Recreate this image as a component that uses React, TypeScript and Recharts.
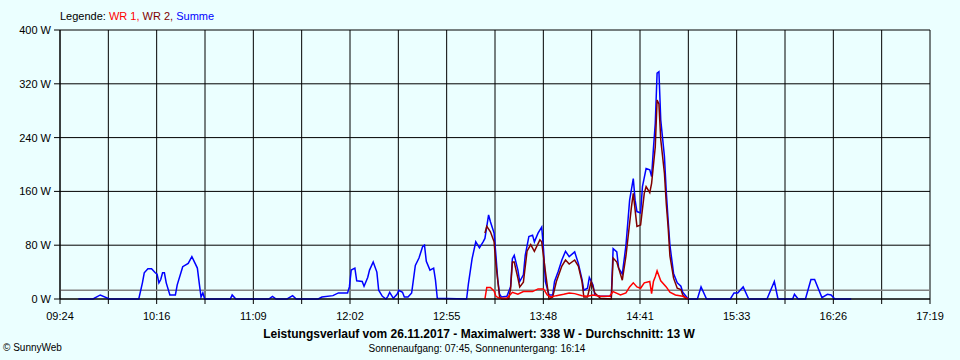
import { CartesianGrid, Line, LineChart, ReferenceLine, XAxis, YAxis } from "recharts";

// minutes of the day, 09:24 .. 17:19
const START = 564;
const END = 1039;
const tickLabels = ["09:24", "10:16", "11:09", "12:02", "12:55", "13:48", "14:41", "15:33", "16:26", "17:19"];
const yTicks = [0, 80, 160, 240, 320, 400];
const average = 13;

const summeTimes = [
  574, 582, 586, 591, 607, 609, 610, 612, 614, 616, 617, 618, 619, 620, 621, 622, 624, 627, 628, 631,
  634, 636, 639, 640, 641, 642, 643, 657, 658, 660, 678, 680, 682, 688, 691, 693, 705, 707, 713, 716,
  721, 722, 723, 725, 726, 729, 730, 732, 733, 735, 737, 738, 740, 742, 743, 744, 746, 748, 749, 751,
  752, 754, 756, 758, 760, 762, 763, 764, 766, 768, 769, 770, 786, 787, 789, 791, 793, 795, 796, 798,
  799, 801, 802, 803, 804, 805, 808, 810, 811, 812, 814, 815, 817, 818, 820, 822, 823, 825, 827, 828,
  829, 831, 833, 834, 836, 838, 840, 842, 845, 847, 849, 850, 852, 853, 855, 856, 859, 865, 866, 868,
  869, 871, 873, 875, 877, 878, 879, 881, 882, 884, 886, 887, 888, 889, 890, 891, 892, 894, 895, 896,
  897, 899, 901, 903, 904, 907, 912, 914, 917, 930, 932, 934, 937, 940, 950, 954, 956, 964, 965, 967,
  971, 974, 976, 980, 983, 985, 987, 996,
];
const summeWatts = [
  0, 0, 6, 0, 0, 24, 39, 45, 45, 39, 37, 24, 29, 39, 39, 24, 6, 6, 21, 48,
  53, 63, 46, 24, 3, 9, 0, 0, 6, 0, 0, 4, 0, 0, 5, 0, 0, 3, 5, 9,
  9, 18, 43, 46, 27, 26, 19, 32, 43, 55, 40, 13, 4, 0, 4, 10, 1, 7, 13, 10,
  3, 3, 9, 50, 61, 78, 80, 56, 43, 46, 28, 1, 0, 23, 60, 85, 76, 85, 90, 125,
  115, 98, 65, 29, 7, 3, 4, 18, 60, 65, 43, 26, 36, 65, 93, 95, 85, 98, 107, 73,
  26, 6, 6, 26, 41, 58, 71, 63, 70, 53, 29, 13, 16, 32, 21, 6, 4, 4, 75, 70,
  46, 37, 80, 147, 179, 147, 130, 128, 167, 194, 192, 182, 224, 261, 336, 338, 266, 212, 160, 118,
  80, 38, 24, 19, 10, 0, 0, 18, 0, 0, 9, 9, 18, 0, 0, 26, 0, 0, 7, 0,
  0, 29, 29, 2, 7, 6, 0, 0,
];

const wr1Times = [
  796, 797, 799, 801, 802, 804, 808, 811, 814, 817, 822, 825, 828, 830, 832, 835, 839, 842, 845, 849,
  852, 855, 859, 864, 866, 870, 873, 875, 877, 879, 881, 883, 886, 887, 888, 889, 890, 892, 895, 897,
  900, 904, 907,
];
const wr1Watts = [
  0, 17, 17, 12, 4, 1, 1, 10, 7, 11, 11, 15, 15, 6, 3, 5, 7, 9, 8, 5,
  4, 6, 4, 4, 11, 6, 9, 18, 24, 18, 16, 24, 26, 8, 26, 33, 42, 27, 18, 10,
  6, 4, 0,
];

const wr2Times = [
  796, 797, 799, 801, 802, 804, 805, 809, 810, 811, 812, 814, 815, 817, 819, 821, 823, 826, 827, 829,
  831, 833, 835, 838, 840, 842, 845, 847, 849, 850, 852, 854, 856, 859, 865, 866, 868, 871, 873, 876,
  877, 879, 881, 883, 884, 886, 887, 889, 890, 891, 892, 894, 895, 896, 897, 899, 901, 903, 904, 906,
];
const wr2Watts = [
  98, 108, 100, 85, 52, 3, 0, 0, 15, 55, 55, 31, 18, 25, 71, 81, 71, 88, 85, 41,
  0, 3, 26, 49, 58, 52, 58, 49, 26, 3, 3, 26, 9, 1, 0, 61, 55, 28, 64, 137,
  157, 108, 110, 157, 167, 158, 172, 226, 296, 290, 237, 187, 142, 108, 64, 31, 16, 14, 6, 0,
];

const xTicks = Array.from({ length: 19 }, (_, i) => START + (i * (END - START)) / 18);

function toPoints(times: number[], watts: number[]) {
  return times.map((t, i) => ({ t, w: watts[i] }));
}

const BG = "#EBFFFF";
const FONT = '"Liberation Sans", Arial, sans-serif';

export default function App() {
  const summe = toPoints(summeTimes, summeWatts);
  const wr1 = toPoints(wr1Times, wr1Watts);
  const wr2 = toPoints(wr2Times, wr2Watts);

  return (
    <div style={{ position: "relative", width: 960, height: 360, background: BG, fontFamily: FONT }}>
      <style>{"body{margin:0}"}</style>
      <div style={{ position: "absolute", left: 60, top: 10, fontSize: 11, color: "#000", zIndex: 1 }}>
        Legende: <span style={{ color: "#FF0000" }}>WR 1,</span>{" "}
        <span style={{ color: "#800000" }}>WR 2,</span>{" "}
        <span style={{ color: "#0000FF" }}>Summe</span>
      </div>
      <LineChart width={960} height={360} margin={{ top: 30, right: 30, bottom: 41, left: 0 }}>
        <CartesianGrid stroke="#000" strokeWidth={1} />
        <XAxis
          dataKey="t"
          type="number"
          domain={[START, END]}
          ticks={xTicks}
          interval={0}
          height={20}
          tickSize={5}
          tickMargin={8}
          axisLine={{ stroke: "#000" }}
          tickLine={{ stroke: "#000" }}
          tick={{ fill: "#000", fontSize: 11, fontFamily: FONT }}
          tickFormatter={(v: number) => {
            const i = xTicks.findIndex((x) => Math.abs(x - v) < 0.01);
            return i % 2 === 0 ? tickLabels[i / 2] : "";
          }}
        />
        <YAxis
          type="number"
          domain={[0, 400]}
          ticks={yTicks}
          width={60}
          tickSize={6}
          tickMargin={3}
          axisLine={{ stroke: "#000" }}
          tickLine={{ stroke: "#000" }}
          tick={{ fill: "#000", fontSize: 11, fontFamily: FONT }}
          tickFormatter={(v: number) => `${v} W`}
        />
        <ReferenceLine y={average} stroke="#808080" strokeWidth={1.5} />
        <Line data={summe} dataKey="w" type="linear" stroke="#0000FF" strokeWidth={1.5} dot={false} isAnimationActive={false} />
        <Line data={wr2} dataKey="w" type="linear" stroke="#800000" strokeWidth={1.5} dot={false} isAnimationActive={false} />
        <Line data={wr1} dataKey="w" type="linear" stroke="#FF0000" strokeWidth={1.5} dot={false} isAnimationActive={false} />
      </LineChart>
      <div style={{ position: "absolute", left: 0, top: 327, width: 958, textAlign: "center", fontSize: 12, fontWeight: "bold" }}>
        Leistungsverlauf vom 26.11.2017 - Maximalwert: 338 W - Durchschnitt: 13 W
      </div>
      <div style={{ position: "absolute", left: 0, top: 343, width: 954, textAlign: "center", fontSize: 10 }}>
        Sonnenaufgang: 07:45, Sonnenuntergang: 16:14
      </div>
      <div style={{ position: "absolute", left: 3, top: 342, fontSize: 10 }}>© SunnyWeb</div>
    </div>
  );
}
